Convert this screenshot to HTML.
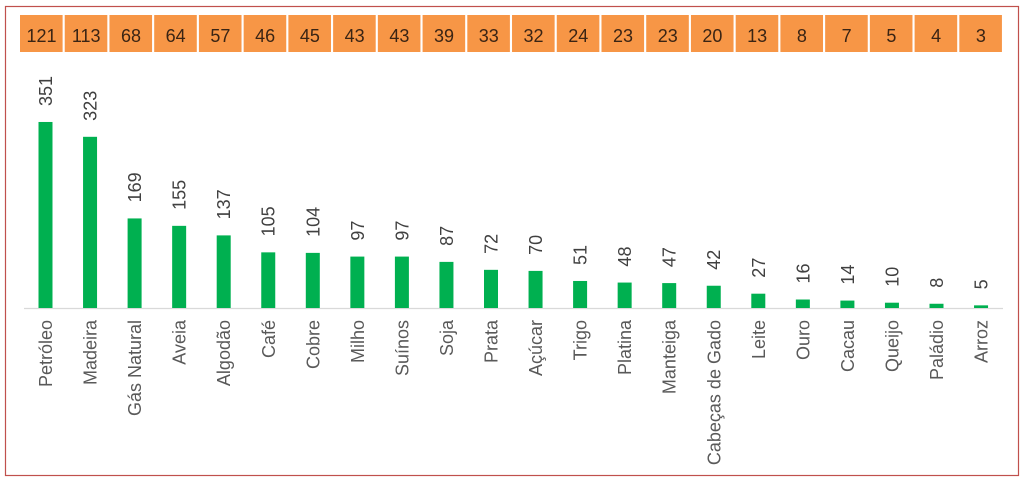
<!DOCTYPE html>
<html><head><meta charset="utf-8"><style>
html,body{margin:0;padding:0;background:#fff;}
svg{display:block;}
</style></head><body>
<svg width="1024" height="480" viewBox="0 0 1024 480" xmlns="http://www.w3.org/2000/svg" font-family="Liberation Sans, Arial, sans-serif">
<rect x="0" y="0" width="1024" height="480" fill="#fff"/>
<rect x="5.5" y="6.5" width="1013" height="469" fill="none" stroke="#c0504d" stroke-width="1.2"/>
<line x1="24" y1="308.5" x2="1003" y2="308.5" stroke="#d9d9d9" stroke-width="1.2"/>
<g id="boxes"></g>
<g id="bars"></g>
<script>
(function(){
var vals=[351,323,169,155,137,105,104,97,97,87,72,70,51,48,47,42,27,16,14,10,8,5];
var names=["Petróleo","Madeira","Gás Natural","Aveia","Algodão","Café","Cobre","Milho","Suínos","Soja","Prata","Açúcar","Trigo","Platina","Manteiga","Cabeças de Gado","Leite","Ouro","Cacau","Queijo","Paládio","Arroz"];
var box=[121,113,68,64,57,46,45,43,43,39,33,32,24,23,23,20,13,8,7,5,4,3];
var ns="http://www.w3.org/2000/svg";
var gb=document.getElementById("boxes"),gr=document.getElementById("bars");
function el(t,a,p,txt){var e=document.createElementNS(ns,t);for(var k in a)e.setAttribute(k,a[k]);if(txt!==undefined)e.textContent=txt;p.appendChild(e);return e;}
for(var i=0;i<22;i++){
  var bx=20+44.73*i;
  el("rect",{x:bx,y:15,width:42.6,height:37,fill:"#f79646"},gb);
  el("text",{x:bx+21.5,y:42,"text-anchor":"middle","font-size":18,fill:"#3a2414"},gb,String(box[i]));
  var c=45.5+44.55*i;
  var h=vals[i]*0.53;
  var top=308-h;
  el("rect",{x:c-7,y:top,width:14,height:h,fill:"#00b050"},gr);
  var vx=c+6.5, vy=top-16;
  el("text",{x:vx,y:vy,transform:"rotate(-90 "+vx+" "+vy+")","text-anchor":"start","font-size":18,fill:"#404040"},gr,String(vals[i]));
  var lx=c+6.5, ly=320;
  el("text",{x:lx,y:ly,transform:"rotate(-90 "+lx+" "+ly+")","text-anchor":"end","font-size":18,fill:"#595959"},gr,names[i]);
}
})();
</script>
</svg>
</body></html>
